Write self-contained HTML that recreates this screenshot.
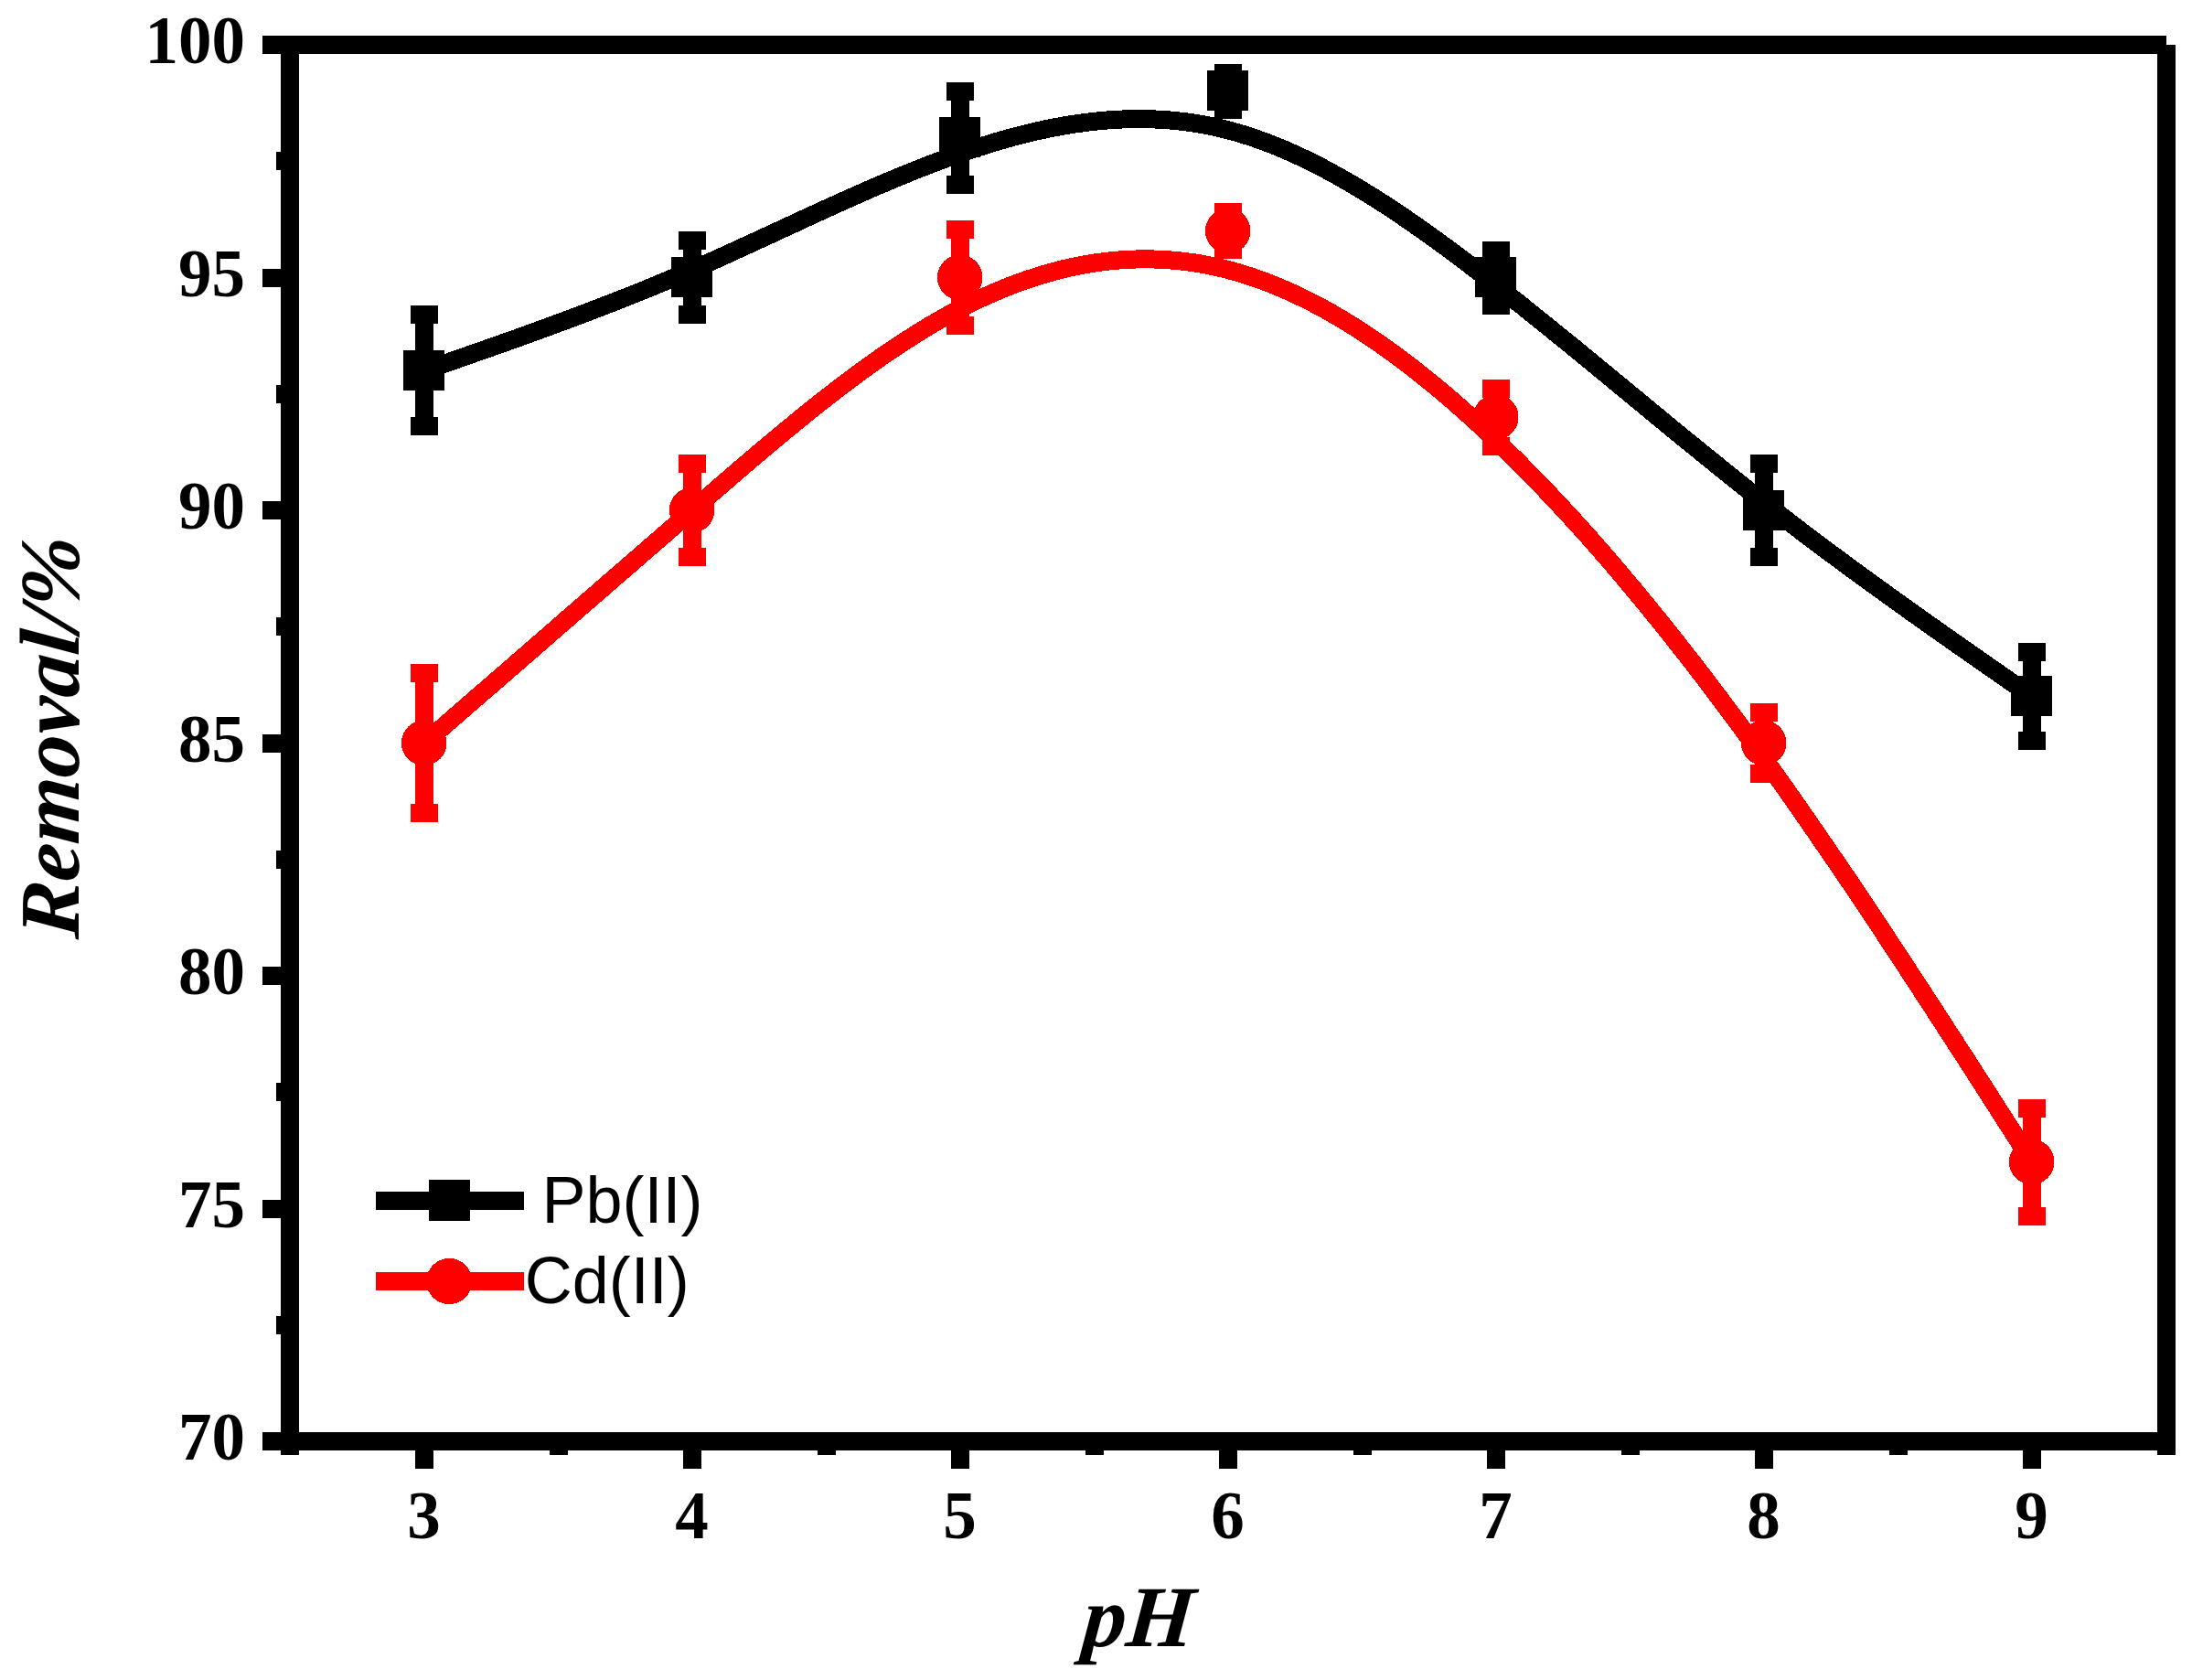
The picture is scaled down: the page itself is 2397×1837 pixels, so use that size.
<!DOCTYPE html>
<html lang="en"><head><meta charset="utf-8"><title>Removal vs pH</title>
<style>html,body{margin:0;padding:0;background:#fff;}body{width:2397px;height:1837px;overflow:hidden;}svg{display:block;}.tk{font-family:"Liberation Serif","Times New Roman",serif;font-weight:bold;font-size:73px;fill:#000;}.ti{font-family:"Liberation Serif","Times New Roman",serif;font-weight:bold;font-style:italic;fill:#000;}.lg{font-family:"Liberation Sans",Arial,sans-serif;font-size:72px;fill:#000;}</style></head><body>
<svg width="2397" height="1837" viewBox="0 0 2397 1837" shape-rendering="crispEdges">
<rect x="0" y="0" width="2397" height="1837" fill="#fff"/>
<g fill="#000000" stroke="none">
<path d="M464.0 405.3 L476.2 401.1 L488.4 396.8 L500.6 392.6 L512.8 388.3 L525.0 384.0 L537.3 379.7 L549.5 375.4 L561.7 371.1 L573.9 366.7 L586.1 362.3 L598.3 357.8 L610.5 353.3 L622.7 348.8 L634.9 344.2 L647.1 339.6 L659.3 334.9 L671.5 330.2 L683.8 325.4 L696.0 320.5 L708.2 315.6 L720.4 310.5 L732.6 305.4 L744.8 300.3 L757.0 295.0 L769.2 289.7 L781.4 284.3 L793.6 278.8 L805.8 273.2 L818.0 267.6 L830.2 262.0 L842.5 256.4 L854.7 250.7 L866.9 245.1 L879.1 239.4 L891.3 233.8 L903.5 228.2 L915.7 222.7 L927.9 217.2 L940.1 211.8 L952.3 206.4 L964.5 201.2 L976.8 196.0 L989.0 191.0 L1001.2 186.0 L1013.4 181.2 L1025.6 176.6 L1037.8 172.1 L1050.0 167.8 L1062.2 163.6 L1074.4 159.7 L1086.6 155.9 L1098.8 152.3 L1111.0 149.0 L1123.2 145.9 L1135.5 143.0 L1147.7 140.4 L1159.9 138.1 L1172.1 136.0 L1184.3 134.3 L1196.5 132.8 L1208.7 131.6 L1220.9 130.8 L1233.1 130.2 L1245.3 130.1 L1257.5 130.2 L1269.8 130.8 L1282.0 131.7 L1294.2 133.0 L1306.4 134.7 L1318.6 136.8 L1330.8 139.4 L1343.0 142.3 L1355.2 145.7 L1367.4 149.5 L1379.6 153.8 L1391.8 158.4 L1404.0 163.4 L1416.2 168.8 L1428.5 174.6 L1440.7 180.6 L1452.9 187.1 L1465.1 193.8 L1477.3 200.8 L1489.5 208.1 L1501.7 215.6 L1513.9 223.4 L1526.1 231.5 L1538.3 239.7 L1550.5 248.2 L1562.7 256.8 L1575.0 265.7 L1587.2 274.7 L1599.4 283.8 L1611.6 293.1 L1623.8 302.5 L1636.0 312.0 L1648.2 321.6 L1660.4 331.2 L1672.6 341.0 L1684.8 350.8 L1697.0 360.7 L1709.2 370.6 L1721.5 380.5 L1733.7 390.5 L1745.9 400.6 L1758.1 410.6 L1770.3 420.7 L1782.5 430.7 L1794.7 440.8 L1806.9 450.9 L1819.1 460.9 L1831.3 471.0 L1843.5 481.0 L1855.8 490.9 L1868.0 500.8 L1880.2 510.7 L1892.4 520.5 L1904.6 530.3 L1916.8 539.9 L1929.0 549.5 L1941.2 559.0 L1953.4 568.4 L1965.6 577.8 L1977.8 587.0 L1990.0 596.2 L2002.2 605.3 L2014.5 614.4 L2026.7 623.4 L2038.9 632.3 L2051.1 641.1 L2063.3 650.0 L2075.5 658.7 L2087.7 667.5 L2099.9 676.2 L2112.1 684.8 L2124.3 693.4 L2136.5 702.0 L2148.8 710.6 L2161.0 719.1 L2173.2 727.6 L2185.4 736.1 L2197.6 744.6 L2209.8 753.1 L2222.0 761.6" fill="none" stroke="#000000" stroke-width="20" stroke-linejoin="round" stroke-linecap="butt"/>
<rect x="454.0" y="344.2" width="20.0" height="122.2" fill="#000000"/>
<rect x="449.0" y="334.2" width="30.0" height="20.0" fill="#000000"/>
<rect x="449.0" y="456.4" width="30.0" height="20.0" fill="#000000"/>
<rect x="441.0" y="382.8" width="45.0" height="44.0" fill="#000000"/>
<rect x="747.0" y="262.8" width="20.0" height="81.4" fill="#000000"/>
<rect x="742.0" y="252.8" width="30.0" height="20.0" fill="#000000"/>
<rect x="742.0" y="334.2" width="30.0" height="20.0" fill="#000000"/>
<rect x="734.0" y="281.0" width="45.0" height="44.0" fill="#000000"/>
<rect x="1040.0" y="99.9" width="20.0" height="101.8" fill="#000000"/>
<rect x="1035.0" y="89.9" width="30.0" height="20.0" fill="#000000"/>
<rect x="1035.0" y="191.7" width="30.0" height="20.0" fill="#000000"/>
<rect x="1027.0" y="128.3" width="45.0" height="44.0" fill="#000000"/>
<rect x="1333.0" y="80.0" width="20.0" height="39.7" fill="#000000"/>
<rect x="1328.0" y="70.0" width="30.0" height="20.0" fill="#000000"/>
<rect x="1328.0" y="109.8" width="30.0" height="20.0" fill="#000000"/>
<rect x="1320.0" y="77.4" width="45.0" height="44.0" fill="#000000"/>
<rect x="1626.0" y="273.5" width="20.0" height="60.1" fill="#000000"/>
<rect x="1621.0" y="263.5" width="30.0" height="20.0" fill="#000000"/>
<rect x="1621.0" y="323.5" width="30.0" height="20.0" fill="#000000"/>
<rect x="1613.0" y="281.0" width="45.0" height="44.0" fill="#000000"/>
<rect x="1919.0" y="507.1" width="20.0" height="101.8" fill="#000000"/>
<rect x="1914.0" y="497.1" width="30.0" height="20.0" fill="#000000"/>
<rect x="1914.0" y="598.9" width="30.0" height="20.0" fill="#000000"/>
<rect x="1906.0" y="535.5" width="45.0" height="44.0" fill="#000000"/>
<rect x="2212.0" y="713.2" width="20.0" height="96.7" fill="#000000"/>
<rect x="2207.0" y="703.2" width="30.0" height="20.0" fill="#000000"/>
<rect x="2207.0" y="800.0" width="30.0" height="20.0" fill="#000000"/>
<rect x="2199.0" y="739.1" width="45.0" height="44.0" fill="#000000"/>
</g>
<g fill="#ff0000" stroke="none">
<path d="M464.0 812.5 L476.2 801.9 L488.4 791.3 L500.6 780.7 L512.8 770.1 L525.0 759.5 L537.3 748.9 L549.5 738.3 L561.7 727.7 L573.9 717.1 L586.1 706.5 L598.3 695.9 L610.5 685.2 L622.7 674.6 L634.9 664.0 L647.1 653.4 L659.3 642.8 L671.5 632.2 L683.8 621.6 L696.0 611.0 L708.2 600.4 L720.4 589.8 L732.6 579.2 L744.8 568.6 L757.0 558.0 L769.2 547.4 L781.4 536.8 L793.6 526.3 L805.8 515.7 L818.0 505.3 L830.2 494.9 L842.5 484.6 L854.7 474.4 L866.9 464.4 L879.1 454.4 L891.3 444.6 L903.5 435.0 L915.7 425.5 L927.9 416.3 L940.1 407.2 L952.3 398.4 L964.5 389.8 L976.8 381.4 L989.0 373.4 L1001.2 365.6 L1013.4 358.0 L1025.6 350.8 L1037.8 344.0 L1050.0 337.4 L1062.2 331.2 L1074.4 325.4 L1086.6 320.0 L1098.8 314.9 L1111.0 310.1 L1123.2 305.8 L1135.5 301.8 L1147.7 298.2 L1159.9 294.9 L1172.1 292.1 L1184.3 289.6 L1196.5 287.6 L1208.7 285.9 L1220.9 284.7 L1233.1 283.8 L1245.3 283.4 L1257.5 283.4 L1269.8 283.7 L1282.0 284.6 L1294.2 285.8 L1306.4 287.4 L1318.6 289.5 L1330.8 292.1 L1343.0 295.0 L1355.2 298.4 L1367.4 302.3 L1379.6 306.5 L1391.8 311.2 L1404.0 316.3 L1416.2 321.8 L1428.5 327.7 L1440.7 334.0 L1452.9 340.6 L1465.1 347.7 L1477.3 355.1 L1489.5 362.9 L1501.7 371.0 L1513.9 379.5 L1526.1 388.3 L1538.3 397.4 L1550.5 406.9 L1562.7 416.7 L1575.0 426.8 L1587.2 437.2 L1599.4 447.9 L1611.6 458.9 L1623.8 470.1 L1636.0 481.6 L1648.2 493.4 L1660.4 505.5 L1672.6 517.8 L1684.8 530.4 L1697.0 543.2 L1709.2 556.3 L1721.5 569.6 L1733.7 583.1 L1745.9 596.9 L1758.1 610.9 L1770.3 625.2 L1782.5 639.7 L1794.7 654.3 L1806.9 669.3 L1819.1 684.4 L1831.3 699.7 L1843.5 715.2 L1855.8 731.0 L1868.0 746.9 L1880.2 763.1 L1892.4 779.4 L1904.6 795.9 L1916.8 812.6 L1929.0 829.5 L1941.2 846.5 L1953.4 863.7 L1965.6 881.1 L1977.8 898.7 L1990.0 916.4 L2002.2 934.2 L2014.5 952.1 L2026.7 970.2 L2038.9 988.4 L2051.1 1006.7 L2063.3 1025.2 L2075.5 1043.7 L2087.7 1062.3 L2099.9 1081.0 L2112.1 1099.7 L2124.3 1118.5 L2136.5 1137.4 L2148.8 1156.3 L2161.0 1175.3 L2173.2 1194.3 L2185.4 1213.4 L2197.6 1232.4 L2209.8 1251.5 L2222.0 1270.6" fill="none" stroke="#ff0000" stroke-width="20" stroke-linejoin="round" stroke-linecap="butt"/>
<rect x="454.0" y="736.1" width="20.0" height="152.7" fill="#ff0000"/>
<rect x="449.0" y="726.1" width="30.0" height="20.0" fill="#ff0000"/>
<rect x="449.0" y="878.9" width="30.0" height="20.0" fill="#ff0000"/>
<circle cx="463.7" cy="812.3" r="24.80"/>
<rect x="747.0" y="507.1" width="20.0" height="101.8" fill="#ff0000"/>
<rect x="742.0" y="497.1" width="30.0" height="20.0" fill="#ff0000"/>
<rect x="742.0" y="598.9" width="30.0" height="20.0" fill="#ff0000"/>
<circle cx="756.7" cy="557.8" r="24.80"/>
<rect x="1040.0" y="250.6" width="20.0" height="105.9" fill="#ff0000"/>
<rect x="1035.0" y="240.6" width="30.0" height="20.0" fill="#ff0000"/>
<rect x="1035.0" y="346.4" width="30.0" height="20.0" fill="#ff0000"/>
<circle cx="1049.7" cy="303.3" r="24.80"/>
<rect x="1333.0" y="232.2" width="20.0" height="40.7" fill="#ff0000"/>
<rect x="1328.0" y="222.2" width="30.0" height="20.0" fill="#ff0000"/>
<rect x="1328.0" y="263.0" width="30.0" height="20.0" fill="#ff0000"/>
<circle cx="1342.7" cy="252.4" r="24.80"/>
<rect x="1626.0" y="424.6" width="20.0" height="63.1" fill="#ff0000"/>
<rect x="1621.0" y="414.6" width="30.0" height="20.0" fill="#ff0000"/>
<rect x="1621.0" y="477.8" width="30.0" height="20.0" fill="#ff0000"/>
<circle cx="1635.7" cy="456.0" r="24.80"/>
<rect x="1919.0" y="778.9" width="20.0" height="67.2" fill="#ff0000"/>
<rect x="1914.0" y="768.9" width="30.0" height="20.0" fill="#ff0000"/>
<rect x="1914.0" y="836.1" width="30.0" height="20.0" fill="#ff0000"/>
<circle cx="1928.7" cy="812.3" r="24.80"/>
<rect x="2212.0" y="1211.6" width="20.0" height="118.1" fill="#ff0000"/>
<rect x="2207.0" y="1201.6" width="30.0" height="20.0" fill="#ff0000"/>
<rect x="2207.0" y="1319.6" width="30.0" height="20.0" fill="#ff0000"/>
<circle cx="2221.7" cy="1270.4" r="24.80"/>
</g>
<g fill="#000">
<rect x="287.0" y="39.0" width="2082.0" height="20.0" fill="#000"/>
<rect x="307.0" y="39.0" width="20.0" height="1552.0" fill="#000"/>
<rect x="287.0" y="1566.0" width="2092.0" height="20.0" fill="#000"/>
<rect x="2359.0" y="49.0" width="20.0" height="1542.0" fill="#000"/>
<rect x="287.0" y="1566.0" width="20.0" height="20.0" fill="#000"/>
<rect x="287.0" y="1311.5" width="20.0" height="20.0" fill="#000"/>
<rect x="287.0" y="1057.0" width="20.0" height="20.0" fill="#000"/>
<rect x="287.0" y="802.5" width="20.0" height="20.0" fill="#000"/>
<rect x="287.0" y="548.0" width="20.0" height="20.0" fill="#000"/>
<rect x="287.0" y="293.5" width="20.0" height="20.0" fill="#000"/>
<rect x="287.0" y="39.0" width="20.0" height="20.0" fill="#000"/>
<rect x="302.0" y="1438.8" width="5.0" height="20.0" fill="#000"/>
<rect x="302.0" y="1184.2" width="5.0" height="20.0" fill="#000"/>
<rect x="302.0" y="929.8" width="5.0" height="20.0" fill="#000"/>
<rect x="302.0" y="675.2" width="5.0" height="20.0" fill="#000"/>
<rect x="302.0" y="420.8" width="5.0" height="20.0" fill="#000"/>
<rect x="302.0" y="166.2" width="5.0" height="20.0" fill="#000"/>
<rect x="454.0" y="1586.0" width="20.0" height="20.0" fill="#000"/>
<rect x="747.0" y="1586.0" width="20.0" height="20.0" fill="#000"/>
<rect x="1040.0" y="1586.0" width="20.0" height="20.0" fill="#000"/>
<rect x="1333.0" y="1586.0" width="20.0" height="20.0" fill="#000"/>
<rect x="1626.0" y="1586.0" width="20.0" height="20.0" fill="#000"/>
<rect x="1919.0" y="1586.0" width="20.0" height="20.0" fill="#000"/>
<rect x="2212.0" y="1586.0" width="20.0" height="20.0" fill="#000"/>
<rect x="600.5" y="1586.0" width="20.0" height="5.0" fill="#000"/>
<rect x="893.5" y="1586.0" width="20.0" height="5.0" fill="#000"/>
<rect x="1186.5" y="1586.0" width="20.0" height="5.0" fill="#000"/>
<rect x="1479.5" y="1586.0" width="20.0" height="5.0" fill="#000"/>
<rect x="1772.5" y="1586.0" width="20.0" height="5.0" fill="#000"/>
<rect x="2065.5" y="1586.0" width="20.0" height="5.0" fill="#000"/>
</g>
<text class="tk" text-anchor="end" x="268.0" y="1596.0">70</text>
<text class="tk" text-anchor="end" x="268.0" y="1341.5">75</text>
<text class="tk" text-anchor="end" x="268.0" y="1087.0">80</text>
<text class="tk" text-anchor="end" x="268.0" y="832.5">85</text>
<text class="tk" text-anchor="end" x="268.0" y="578.0">90</text>
<text class="tk" text-anchor="end" x="268.0" y="323.5">95</text>
<text class="tk" text-anchor="end" x="268.0" y="69.0">100</text>
<text class="tk" text-anchor="middle" x="463.5" y="1682.0">3</text>
<text class="tk" text-anchor="middle" x="756.5" y="1682.0">4</text>
<text class="tk" text-anchor="middle" x="1049.5" y="1682.0">5</text>
<text class="tk" text-anchor="middle" x="1342.5" y="1682.0">6</text>
<text class="tk" text-anchor="middle" x="1635.5" y="1682.0">7</text>
<text class="tk" text-anchor="middle" x="1928.5" y="1682.0">8</text>
<text class="tk" text-anchor="middle" x="2221.5" y="1682.0">9</text>
<text class="ti" font-size="93" text-anchor="middle" transform="translate(86.0 808.0) rotate(-90) skewX(-5)">Removal/%</text>
<text class="ti" font-size="95" text-anchor="middle" transform="translate(1243.0 1799.5) skewX(-5)">pH</text>
<rect x="411.0" y="1303.0" width="162.0" height="20.0" fill="#000"/>
<rect x="469.0" y="1290.0" width="45.0" height="45.0" fill="#000"/>
<rect x="411.0" y="1391.0" width="162.0" height="20.0" fill="#ff0000"/>
<clipPath id="lc"><rect x="467.8" y="1370" width="46.9" height="62"/></clipPath>
<circle cx="491.2" cy="1401" r="25.1" fill="#ff0000" clip-path="url(#lc)"/>
<text class="lg" x="592.5" y="1337">Pb(II)</text>
<text class="lg" x="573.8" y="1425">Cd(II)</text>
</svg></body></html>
